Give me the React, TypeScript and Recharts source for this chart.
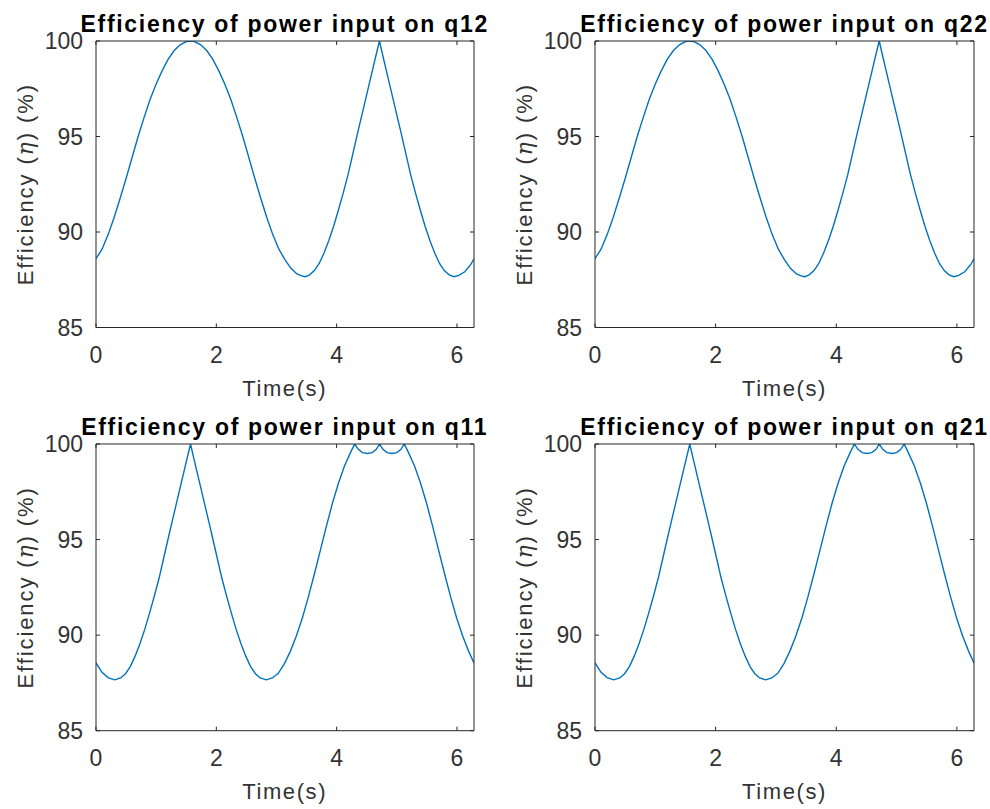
import { LineChart, Line, XAxis, YAxis } from 'recharts';

const timeUpper = [
  0, 0.1, 0.2, 0.3, 0.4, 0.5, 0.6, 0.7, 0.8, 0.9, 1.0, 1.1, 1.2, 1.3, 1.4, 1.5, 1.571,
  1.64, 1.74, 1.84, 1.94, 2.04, 2.14, 2.24, 2.34, 2.44, 2.54, 2.64, 2.74, 2.84, 2.94, 3.04,
  3.14, 3.24, 3.34, 3.44, 3.48, 3.55, 3.63, 3.71, 3.79, 3.87, 3.95, 4.03, 4.11, 4.19, 4.27,
  4.35, 4.41, 4.47, 4.53, 4.59, 4.65, 4.712, 4.77, 4.83, 4.89, 4.95, 5.01, 5.07, 5.15, 5.23,
  5.31, 5.39, 5.47, 5.55, 5.63, 5.71, 5.79, 5.87, 5.95, 6.03, 6.13, 6.23, 6.283,
];
const etaQ12 = [
  88.6, 89.1, 89.85, 90.75, 91.75, 92.8, 93.9, 95.0, 96.0, 96.95, 97.75, 98.45, 99.05, 99.5,
  99.8, 99.97, 100, 99.97, 99.8, 99.5, 99.05, 98.45, 97.75, 96.95, 96.0, 95.0, 93.9, 92.8,
  91.75, 90.75, 89.85, 89.1, 88.55, 88.1, 87.8, 87.68, 87.66, 87.76, 87.98, 88.35, 88.9,
  89.55, 90.3, 91.15, 92.05, 93.0, 94.1, 95.2, 96.0, 96.8, 97.6, 98.4, 99.2, 100, 99.2, 98.4,
  97.6, 96.8, 96.0, 95.2, 94.1, 93.0, 92.05, 91.15, 90.3, 89.55, 88.9, 88.35, 87.98, 87.76,
  87.66, 87.73, 87.92, 88.3, 88.6,
];
const etaQ22 = etaQ12;

// q11 / q21 panels
const timeLower = [
  0, 0.1, 0.2, 0.31, 0.41, 0.49, 0.57, 0.65, 0.73, 0.81, 0.89, 0.97, 1.05, 1.13, 1.21, 1.27,
  1.33, 1.39, 1.45, 1.51, 1.571, 1.63, 1.69, 1.75, 1.81, 1.87, 1.93, 2.01, 2.09, 2.17, 2.25,
  2.33, 2.41, 2.49, 2.57, 2.65, 2.73, 2.83, 2.93, 3.03, 3.13, 3.23, 3.33, 3.43, 3.53, 3.63,
  3.73, 3.83, 3.93, 4.03, 4.13, 4.23, 4.3, 4.36, 4.43, 4.51, 4.59, 4.66, 4.712, 4.77, 4.84,
  4.92, 5.0, 5.07, 5.125, 5.195, 5.295, 5.395, 5.495, 5.595, 5.695, 5.795, 5.895, 5.995,
  6.095, 6.195, 6.283,
];
const etaQ11 = [
  88.55, 88.05, 87.78, 87.66, 87.76, 87.98, 88.35, 88.9, 89.55, 90.3, 91.15, 92.05, 93.0,
  94.1, 95.2, 96.0, 96.8, 97.6, 98.4, 99.2, 100, 99.2, 98.4, 97.6, 96.8, 96.0, 95.2, 94.1,
  93.0, 92.05, 91.15, 90.3, 89.55, 88.9, 88.35, 87.98, 87.76, 87.66, 87.76, 88.0, 88.5,
  89.15, 89.95, 90.9, 92.0, 93.2, 94.45, 95.7, 96.9, 97.95, 98.85, 99.55, 100, 99.72, 99.55,
  99.5, 99.55, 99.72, 100, 99.72, 99.55, 99.5, 99.55, 99.72, 100, 99.55, 98.85, 97.95, 96.9,
  95.7, 94.45, 93.2, 92.0, 90.9, 89.95, 89.15, 88.55,
];
const etaQ21 = etaQ11;

const X_TICKS = [0, 2, 4, 6];
const Y_TICKS = [85, 90, 95, 100];
const X_MAX = 2 * Math.PI;

const AXIS = '#262626';
const TEXT = '#333333';
const LINE = '#0072BD';
const FONT = '"Liberation Sans", Arial, Helvetica, sans-serif';
const TICK_LEN = 4;
const TICK_FONT = 23;

// outer space around each plot box; axis boxes eat into it
const OUT = { top: 42, left: 96, right: 16, bottom: 80 };
const AX_BOTTOM = 40;
const AX_TOP = 10;
const AX_LEFT = 60;
const AX_RIGHT = 10;
const M = {
  top: OUT.top - AX_TOP,
  left: OUT.left - AX_LEFT,
  right: OUT.right - AX_RIGHT,
  bottom: OUT.bottom - AX_BOTTOM,
};

const panels = [
  { title: 'Efficiency of power input on q12', t: timeUpper, eta: etaQ12, x: 95.7, y: 41, w: 378, h: 286.5 },
  { title: 'Efficiency of power input on q22', t: timeUpper, eta: etaQ22, x: 595, y: 41, w: 379, h: 286.5 },
  { title: 'Efficiency of power input on q11', t: timeLower, eta: etaQ11, x: 95.7, y: 444, w: 378, h: 286.7 },
  { title: 'Efficiency of power input on q21', t: timeLower, eta: etaQ21, x: 595, y: 444, w: 379, h: 286.7 },
];

const BottomTick = ({ x, y, payload }: any) => (
  <g>
    <line x1={x} y1={y} x2={x} y2={y - TICK_LEN} stroke={AXIS} />
    <text x={x} y={y + 35} textAnchor="middle" fill={TEXT} fontSize={TICK_FONT} fontFamily={FONT}>
      {payload.value}
    </text>
  </g>
);
const TopTick = ({ x, y }: any) => <line x1={x} y1={y} x2={x} y2={y + TICK_LEN} stroke={AXIS} />;
const LeftTick = ({ x, y, payload }: any) => (
  <g>
    <line x1={x} y1={y} x2={x + TICK_LEN} y2={y} stroke={AXIS} />
    <text x={x - 13} y={y} dy="0.36em" textAnchor="end" fill={TEXT} fontSize={TICK_FONT} fontFamily={FONT}>
      {payload.value}
    </text>
  </g>
);
const RightTick = ({ x, y }: any) => <line x1={x} y1={y} x2={x - TICK_LEN} y2={y} stroke={AXIS} />;

function Panel({ p }: { p: (typeof panels)[number] }) {
  const data = p.t.map((t, i) => ({ t, eta: p.eta[i] }));
  const width = p.w + OUT.left + OUT.right;
  const height = p.h + OUT.top + OUT.bottom;
  return (
    <div style={{ position: 'absolute', left: p.x - OUT.left, top: p.y - OUT.top, width, height }}>
      <LineChart width={width} height={height} data={data} margin={M}>
        <XAxis
          xAxisId="b"
          dataKey="t"
          type="number"
          domain={[0, X_MAX]}
          ticks={X_TICKS}
          interval={0}
          allowDataOverflow
          height={AX_BOTTOM}
          tickSize={0}
          tickMargin={0}
          tickLine={false}
          stroke={AXIS}
          tick={<BottomTick />}
        />
        <XAxis
          xAxisId="top"
          orientation="top"
          dataKey="t"
          type="number"
          domain={[0, X_MAX]}
          ticks={X_TICKS}
          interval={0}
          allowDataOverflow
          height={AX_TOP}
          tickSize={0}
          tickMargin={0}
          tickLine={false}
          stroke={AXIS}
          tick={<TopTick />}
        />
        <YAxis
          yAxisId="l"
          type="number"
          domain={[85, 100]}
          ticks={Y_TICKS}
          interval={0}
          allowDataOverflow
          width={AX_LEFT}
          tickSize={0}
          tickMargin={0}
          tickLine={false}
          stroke={AXIS}
          tick={<LeftTick />}
        />
        <YAxis
          yAxisId="r"
          orientation="right"
          type="number"
          domain={[85, 100]}
          ticks={Y_TICKS}
          interval={0}
          allowDataOverflow
          width={AX_RIGHT}
          tickSize={0}
          tickMargin={0}
          tickLine={false}
          stroke={AXIS}
          tick={<RightTick />}
        />
        <Line
          xAxisId="b"
          yAxisId="l"
          type="linear"
          dataKey="eta"
          stroke={LINE}
          strokeWidth={1.4}
          dot={false}
          isAnimationActive={false}
        />
      </LineChart>
    </div>
  );
}

export default function App() {
  return (
    <div style={{ position: 'absolute', left: 0, top: 0, width: 990, height: 809, background: '#fff' }}>
      {panels.map((p) => (
        <Panel key={p.title} p={p} />
      ))}
      <svg
        width={990}
        height={809}
        style={{ position: 'absolute', left: 0, top: 0, pointerEvents: 'none' }}
        fontFamily={FONT}
      >
        {panels.map((p) => {
          const cx = p.x + p.w / 2;
          const cy = p.y + p.h / 2;
          const lx = p.x - 63;
          return (
            <g key={p.title}>
              <text x={cx} y={p.y - 9} textAnchor="middle" fontWeight="bold" fontSize={23} letterSpacing={1.7} fill="#000">
                {p.title}
              </text>
              <text x={cx} y={p.y + p.h + 68} textAnchor="middle" fontSize={22} letterSpacing={1.6} fill={TEXT}>
                Time(s)
              </text>
              <text
                x={lx}
                y={cy}
                textAnchor="middle"
                fontSize={22}
                letterSpacing={1.9}
                fill={TEXT}
                transform={`rotate(-90 ${lx} ${cy})`}
              >
                Efficiency (<tspan fontStyle="italic" fontFamily="'DejaVu Serif', serif">η</tspan>) (%)
              </text>
            </g>
          );
        })}
      </svg>
    </div>
  );
}
